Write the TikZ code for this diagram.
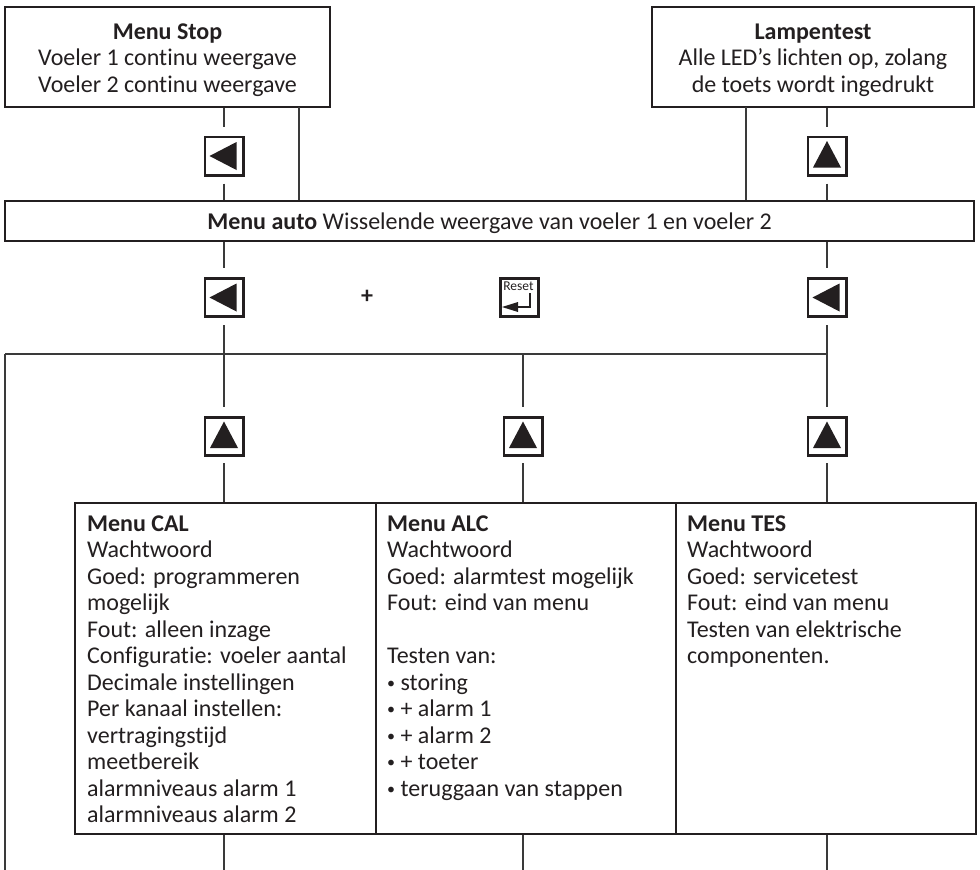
\documentclass[tikz,border=0pt]{standalone}
\usepackage{fontspec}
\setmainfont{Carlito}[Ligatures=NoCommon]
\definecolor{ink}{HTML}{231F20}
\definecolor{lin}{HTML}{3A3A3A}
\newcommand\keyleft[1]{\fill[ink] ([shift={(-14.5,0)}]#1.center) -- ([shift={(12.5,-14)}]#1.center) -- ([shift={(12.5,14)}]#1.center) -- cycle;}
\newcommand\keyup[1]{\fill[ink] ([shift={(0,-15)}]#1.center) -- ([shift={(14,11.5)}]#1.center) -- ([shift={(-14,11.5)}]#1.center) -- cycle;}
\newcommand\smbul{\raisebox{2pt}{\fontsize{16}{16}\selectfont •}}
\begin{document}
\begin{tikzpicture}[x=1pt,y=-1pt,
  box/.style={draw=ink,line width=2.6pt,inner sep=0pt},
  keybox/.style={draw=ink,line width=2.6pt,minimum size=38.4pt,inner sep=0pt},
  conn/.style={draw=lin,line width=1.1pt},
  txt/.style={inner sep=0pt,font=\fontsize{24}{26.5}\selectfont,text=ink},
]
\useasboundingbox (0,0) rectangle (980,870);
% boxes
\node[box,minimum width=325pt,minimum height=100pt] (stop) at (167.5,57) {};
\node[box,minimum width=322pt,minimum height=100pt] (lamp) at (813,57) {};
\node[box,minimum width=969pt,minimum height=40pt] (auto) at (489.5,221) {};
\node[box,minimum width=301pt,minimum height=331pt] (cal) at (225.5,668.5) {};
\node[box,minimum width=300pt,minimum height=331pt] (alc) at (526,668.5) {};
\node[box,minimum width=300pt,minimum height=331pt] (tes) at (826,668.5) {};
% texts
\node[txt,align=center,anchor=north] (stoptxt) at (167.5,23.5) {\textbf{Menu Stop}\\Voeler 1 continu weergave\\Voeler 2 continu weergave};
\node[txt,align=center,anchor=north] (lamptxt) at (813,23.5) {\textbf{Lampentest}\\Alle LED’s lichten op, zolang\\de toets wordt ingedrukt};
\node[txt,anchor=base] (autotxt) at (489.5,229) {\textbf{Menu auto} Wisselende weergave van voeler 1 en voeler 2};
\node[txt,align=left,anchor=north west] (caltxt) at (87,515.5) {\textbf{Menu CAL}\\Wachtwoord\\Goed: programmeren\\mogelijk\\Fout: alleen inzage\\Configuratie: voeler aantal\\Decimale instellingen\\Per kanaal instellen:\\vertragingstijd\\meetbereik\\alarmniveaus alarm 1\\alarmniveaus alarm 2};
\node[txt,align=left,anchor=north west] (alctxt) at (387,515.5) {\textbf{Menu ALC}\\Wachtwoord\\Goed: alarmtest mogelijk\\Fout: eind van menu\\[26.5pt]Testen van:\\\smbul\ storing\\\smbul\ + alarm 1\\\smbul\ + alarm 2\\\smbul\ + toeter\\\smbul\ teruggaan van stappen};
\node[txt,align=left,anchor=north west] (testxt) at (687,515.5) {\textbf{Menu TES}\\Wachtwoord\\Goed: servicetest\\Fout: eind van menu\\Testen van elektrische\\componenten.};
% keys
\node[keybox] (k1) at (224,156) {};
\node[keybox] (k2) at (827,156) {};
\node[keybox] (k3) at (224,297.5) {};
\node[keybox] (k8) at (519.5,297.5) {};
\node[keybox] (k4) at (827,297.5) {};
\node[keybox] (k5) at (224,436.5) {};
\node[keybox] (k6) at (523,436.5) {};
\node[keybox] (k7) at (827,436.5) {};
\keyleft{k1}\keyup{k2}\keyleft{k3}\keyleft{k4}\keyup{k5}\keyup{k6}\keyup{k7}
% reset key content
\node[inner sep=0pt,anchor=base,text=ink,font=\fontsize{13.5}{13.5}\selectfont] (rst) at ([shift={(-1,-7.5)}]k8.center) {Reset};
\fill[ink] ([shift={(-17.5,9.5)}]k8.center) -- ([shift={(-1.5,4.5)}]k8.center) -- ([shift={(-1.5,14.5)}]k8.center) -- cycle;
\draw[ink,line width=2.2pt] ([shift={(-2,9.5)}]k8.center) -- ([shift={(10.5,9.5)}]k8.center) -- ([shift={(10.5,-4.5)}]k8.center);
\node[txt,font=\bfseries\fontsize{24}{26.5}\selectfont] (plus) at (367,297) {+};
% connectors
\coordinate (s2) at (299,107);
\coordinate (l2) at (746,107);
\coordinate (hl) at (5,354);
\coordinate (bl) at (5,870);
\draw[conn,shorten >=9pt] (k1 |- stop.south) -- (k1.north);
\draw[conn,shorten <=7pt] (k1.south) -- (k1 |- auto.north);
\draw[conn] (s2) -- (s2 |- auto.north);
\draw[conn] (l2) -- (l2 |- auto.north);
\draw[conn,shorten >=9pt] (k2 |- lamp.south) -- (k2.north);
\draw[conn,shorten <=7pt] (k2.south) -- (k2 |- auto.north);
\draw[conn,shorten >=9pt] (k3 |- auto.south) -- (k3.north);
\draw[conn,shorten >=9pt] (k4 |- auto.south) -- (k4.north);
\draw[conn,shorten <=7pt,shorten >=9pt] (k3.south) -- (k5.north);
\draw[conn,shorten <=7pt,shorten >=9pt] (k4.south) -- (k7.north);
\draw[conn] (hl) -- (hl -| k4);
\draw[conn] (hl) -- (bl);
\draw[conn,shorten >=9pt] (hl -| k6) -- (k6.north);
\draw[conn,shorten <=6pt] (k5.south) -- (k5 |- cal.north);
\draw[conn,shorten <=6pt] (k6.south) -- (k6 |- alc.north);
\draw[conn,shorten <=6pt] (k7.south) -- (k7 |- tes.north);
\draw[conn] (k5 |- cal.south) -- (k5 |- bl);
\draw[conn] (k6 |- alc.south) -- (k6 |- bl);
\draw[conn] (k7 |- tes.south) -- (k7 |- bl);
\end{tikzpicture}
\end{document}
